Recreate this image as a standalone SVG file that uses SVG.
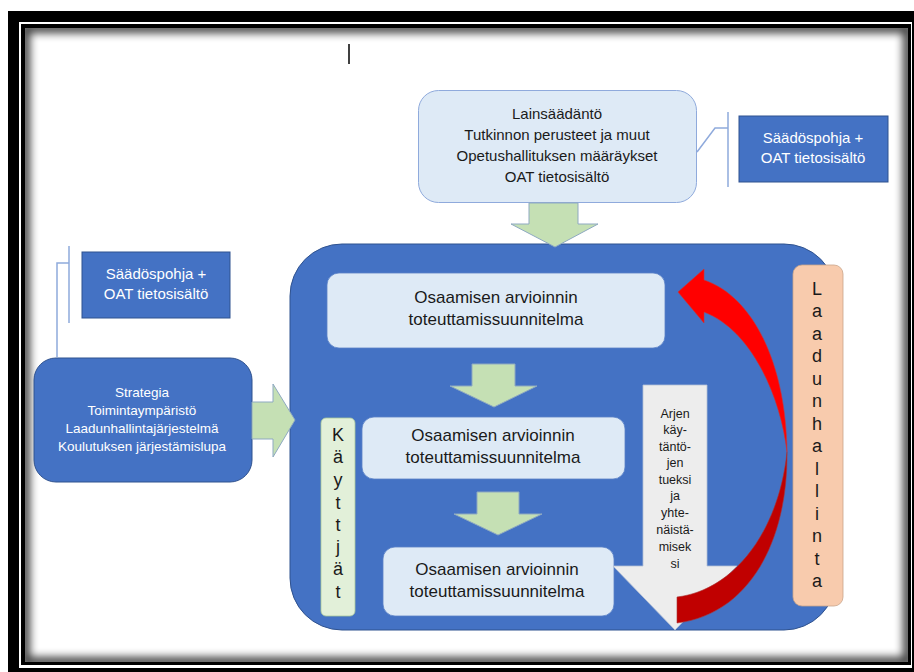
<svg xmlns="http://www.w3.org/2000/svg" width="914" height="672" viewBox="0 0 914 672">
<defs>
<style>
.t{font-family:"Liberation Sans",Arial,sans-serif;text-anchor:middle;}
.lb{fill:#DEEAF6;stroke:#8FAADC;stroke-width:1;}
.blue{fill:#4472C4;stroke:#2F528F;stroke-width:1;}
.green{fill:#C5E0B4;stroke:#8EA9C1;stroke-width:1;}
.call{fill:none;stroke:#8FAADC;stroke-width:1.5;}
.dk{fill:#1a1a1a;}
.wh{fill:#ffffff;}
</style>
<filter id="ish" x="-5%" y="-5%" width="110%" height="110%">
<feGaussianBlur stdDeviation="4"/>
</filter>
<clipPath id="inner"><rect x="25" y="28" width="883" height="634"/></clipPath>
</defs>

<g id="frame">
<rect x="8" y="11" width="906" height="661" fill="#000"/>
<rect x="19" y="22" width="893" height="646" fill="#fff"/>
<rect x="21" y="24" width="890" height="641" fill="#000"/>
<rect x="25" y="28" width="883" height="634" fill="#fff"/>
<g clip-path="url(#inner)">
<rect x="25" y="28" width="883" height="634" fill="none" stroke="#000" stroke-opacity="0.75" stroke-width="10" filter="url(#ish)"/>
</g>
<line x1="349" y1="44" x2="349" y2="64" stroke="#000" stroke-width="1.5"/>
</g>

<g id="main-container">
<rect x="290" y="244" width="546" height="386" rx="52" ry="52" class="blue"/>
</g>

<g id="top-box">
<rect x="418.5" y="90.5" width="278" height="112" rx="20" ry="20" class="lb" stroke="#6F8FC9"/>
<text class="t dk" font-size="15" x="557" y="119">Lainsäädäntö</text>
<text class="t dk" font-size="15" x="557" y="140">Tutkinnon perusteet ja muut</text>
<text class="t dk" font-size="15" x="557" y="161">Opetushallituksen määräykset</text>
<text class="t dk" font-size="15" x="557" y="182">OAT tietosisältö</text>
</g>

<g id="callout-right">
<rect x="739" y="116" width="149" height="66" class="blue"/>
<text class="t wh" font-size="15" x="813" y="143">Säädöspohja +</text>
<text class="t wh" font-size="15" x="813" y="163">OAT tietosisältö</text>
</g>

<g id="callout-left">
<rect x="82" y="252" width="148" height="66" class="blue"/>
<text class="t wh" font-size="15" x="156" y="279">Säädöspohja +</text>
<text class="t wh" font-size="15" x="156" y="299">OAT tietosisältö</text>
</g>

<g id="left-box">
<rect x="34" y="358" width="218" height="124" rx="22" ry="22" class="blue"/>
<text class="t wh" font-size="13.5" x="142" y="397">Strategia</text>
<text class="t wh" font-size="13.5" x="142" y="415">Toimintaympäristö</text>
<text class="t wh" font-size="13.5" x="142" y="433">Laadunhallintajärjestelmä</text>
<text class="t wh" font-size="13.5" x="142" y="451">Koulutuksen järjestämislupa</text>
</g>

<g id="plan-1">
<rect x="327" y="273" width="338" height="75" rx="12" ry="12" fill="#DEEAF6" stroke="#5B82C6" stroke-width="0.8"/>
<text class="t dk" font-size="17" x="496" y="303">Osaamisen arvioinnin</text>
<text class="t dk" font-size="17" x="496" y="325">toteuttamissuunnitelma</text>
</g>

<g id="plan-2">
<rect x="362" y="417" width="263" height="62" rx="12" ry="12" fill="#DEEAF6" stroke="#5B82C6" stroke-width="0.8"/>
<text class="t dk" font-size="17" x="493" y="441">Osaamisen arvioinnin</text>
<text class="t dk" font-size="17" x="493" y="463">toteuttamissuunnitelma</text>
</g>

<g id="plan-3">
<rect x="383" y="547" width="231" height="69" rx="12" ry="12" fill="#DEEAF6" stroke="#5B82C6" stroke-width="0.8"/>
<text class="t dk" font-size="17" x="497" y="575">Osaamisen arvioinnin</text>
<text class="t dk" font-size="17" x="497" y="597">toteuttamissuunnitelma</text>
</g>

<g id="kayttajat">
<rect x="321" y="418" width="34" height="198" rx="5" ry="5" fill="#E2F0D9" stroke="#A9C89A" stroke-width="0.8"/>
<text class="t dk" font-size="18" x="338">
<tspan x="338" y="441">K</tspan><tspan x="338" y="463">ä</tspan><tspan x="338" y="486">y</tspan><tspan x="338" y="509">t</tspan><tspan x="338" y="531">t</tspan><tspan x="338" y="553">j</tspan><tspan x="338" y="575">ä</tspan><tspan x="338" y="598">t</tspan>
</text>
</g>

<g id="laadunhallinta">
<rect x="793" y="265" width="50" height="341" rx="9" ry="9" fill="#F8CBAD" stroke="#C9A58A" stroke-width="0.8"/>
<text class="t dk" font-size="18" x="817">
<tspan x="817" y="295">L</tspan><tspan x="817" y="317">a</tspan><tspan x="817" y="340">a</tspan><tspan x="817" y="362">d</tspan><tspan x="817" y="385">u</tspan><tspan x="817" y="407">n</tspan><tspan x="817" y="430">h</tspan><tspan x="817" y="452">a</tspan><tspan x="817" y="475">l</tspan><tspan x="817" y="497">l</tspan><tspan x="817" y="520">i</tspan><tspan x="817" y="542">n</tspan><tspan x="817" y="565">t</tspan><tspan x="817" y="587">a</tspan>
</text>
</g>

<g id="connectors">
<path class="call" d="M697,152 L715,128 L728,128 M728,112 L728,187"/>
<path class="call" d="M57,357 L57,263 L69,263 M69,246 L69,323"/>
<polygon class="green" points="529,203 578,203 578,224 598,224 555,247 511,224 529,224"/>
<polygon class="green" points="472,364 515,364 515,386 537,386 494,407 450,386 472,386"/>
<polygon class="green" points="477,492 519,492 519,514 542,514 498,535 454,514 477,514"/>
<polygon class="green" points="252,402 273,402 273,384 295,420 273,457 273,439 252,439"/>
</g>

<g id="daily-practice-arrow">
<polygon points="643,385 707,385 707,566 737,566 675,630 613,566 643,566" fill="#EDEDED" stroke="#B4C0D6" stroke-width="0.8"/>
<text class="t dk" font-size="12.5" x="675">
<tspan x="675" y="418">Arjen</tspan><tspan x="675" y="434">käy-</tspan><tspan x="675" y="451">täntö-</tspan><tspan x="675" y="467">jen</tspan><tspan x="675" y="484">tueksi</tspan><tspan x="675" y="500">ja</tspan><tspan x="675" y="517">yhte-</tspan><tspan x="675" y="534">näistä-</tspan><tspan x="675" y="551">misek</tspan><tspan x="675" y="568">si</tspan>
</text>
</g>

<g id="quality-loop-arrow">
<path d="M787,452 C788,540 750,614 677,623 L677,597 C735,590 779,530 787,452 Z" fill="#C00000" stroke="#A33" stroke-width="0.6"/>
<path d="M678,292 L704,269 L704,280 C752,296 786,362 787,452 C781,398 752,330 704,312 L704,323 Z" fill="#FF0000" stroke="#C33" stroke-width="0.6"/>
</g>
</svg>
